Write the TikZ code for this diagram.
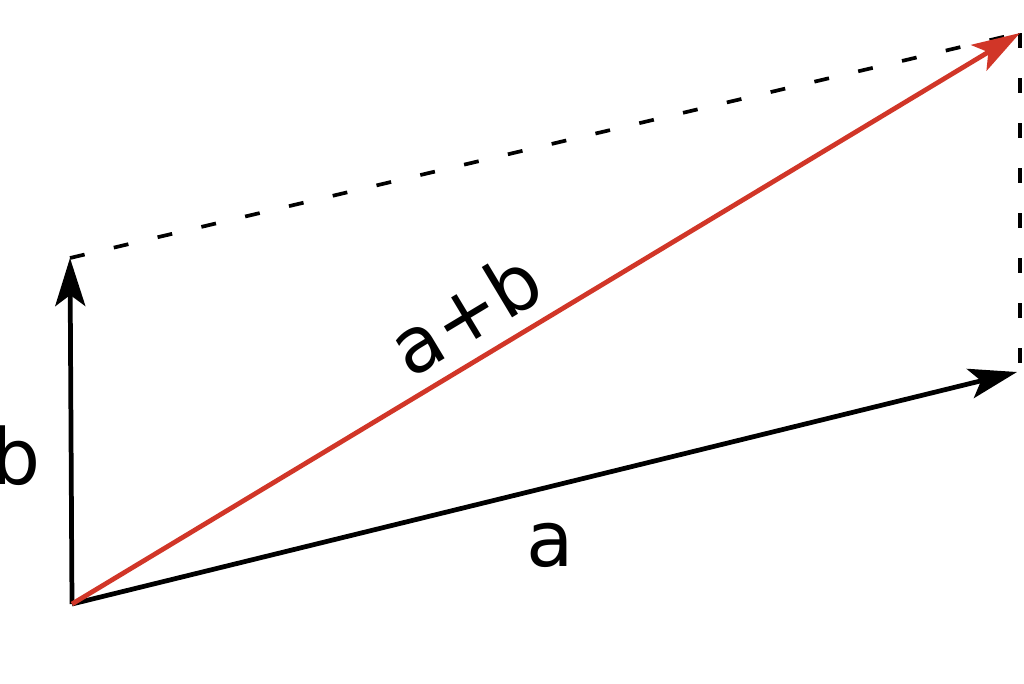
\documentclass[tikz,border=0pt]{standalone}
\usepackage{fontspec}
\setmainfont{DejaVu Sans}
\usetikzlibrary{arrows.meta}
\definecolor{sumred}{RGB}{209,54,40}
\tikzset{
    vecn/.style = {line width=1.35pt,black,-{Stealth[length=0.48cm,width=0.3cm,inset=0.11cm]}},
    vecr/.style = {line width=1.35pt,sumred,-{Stealth[length=0.48cm,width=0.3cm,inset=0.11cm]}},
    edged/.style = {line width=1.05pt,black,dash pattern=on 0.15cm off 0.3cm},
    vlabel/.style = {inner sep=0pt,font=\fontsize{22}{26}\selectfont}
}
\begin{document}
\begin{tikzpicture}
\useasboundingbox (0,0) rectangle (10.24,6.83);
%
\coordinate (o) at (0.72,0.79);
\coordinate (b) at (0.70,4.25);
\coordinate (a) at (10.17,3.11);
\coordinate (s) at (10.20,6.50);
\coordinate (c) at (10.20,3.11);
%
\node[vlabel] at (0.16,2.27) (lb) {b};
\node[vlabel] at (5.50,1.38) (la) {a};
\node[vlabel,rotate=31] at (4.65,3.70) (ls) {a+b};
%
\draw[edged] (b) -- (s);
\draw[edged] (s) -- (c);
\draw[vecn] (o) -- (b);
\draw[vecn] (o) -- (a);
\draw[vecr] (o) -- (s);
\end{tikzpicture}
\end{document}
